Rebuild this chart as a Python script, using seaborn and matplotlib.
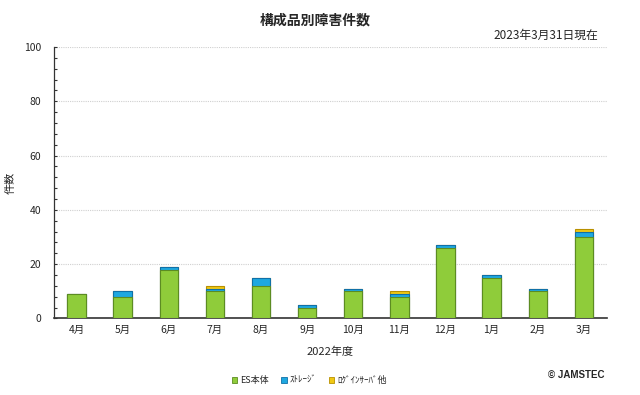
import numpy as np
import pandas as pd
import seaborn as sns
import matplotlib.pyplot as plt
from matplotlib.patches import Patch
from matplotlib.ticker import MultipleLocator

months = ['4月', '5月', '6月', '7月', '8月', '9月', '10月', '11月', '12月', '1月', '2月', '3月']
es_main = [9, 8, 18, 10, 12, 4, 10, 8, 26, 15, 10, 30]
storage = [0, 2, 1, 1, 3, 1, 1, 1, 1, 1, 1, 2]
login_etc = [0, 0, 0, 1, 0, 0, 0, 1, 0, 0, 0, 1]

series_names = ['ES本体', 'ｽﾄﾚｰｼﾞ', 'ﾛｸﾞｲﾝｻｰﾊﾞ他']
colors = ['#8fcc3a', '#1ea8e0', '#f0c814']
edges = ['#5c8c22', '#1070a8', '#b89000']

sns.set_style('white')
plt.rcParams['font.family'] = ['Noto Sans CJK JP', 'DejaVu Sans']

df = pd.DataFrame({'month': months, 'es': es_main, 'st': storage, 'lg': login_etc})
df['c1'] = df['es']
df['c2'] = df['es'] + df['st']
df['c3'] = df['c2'] + df['lg']

fig = plt.figure(figsize=(6.4, 3.95), dpi=100)
ax = fig.add_axes([0.0836, 0.194, 0.8647, 0.687])

# stacked by overlaying cumulative totals, top segment first
for col, c, e in zip(['c3', 'c2', 'c1'], colors[::-1], edges[::-1]):
    sns.barplot(data=df, x='month', y=col, color=c, width=0.4, ax=ax,
                edgecolor=e, linewidth=0.8, saturation=1, zorder=3)

ax.set_ylim(0, 100)
ax.set_xlim(-0.5, 11.5)
ax.yaxis.set_major_locator(MultipleLocator(20))
ax.yaxis.set_minor_locator(MultipleLocator(4))
ax.tick_params(axis='y', which='minor', direction='in', length=2, width=0.8, color='#333333', left=True)
ax.tick_params(axis='y', which='major', direction='in', length=2, width=0.8, color='#333333', left=True, labelsize=7.5, pad=9)
ax.tick_params(axis='x', length=0, labelsize=7.5, pad=5)
ax.grid(axis='y', color='#d0d0d0', linestyle=(0, (1, 1)), linewidth=0.8, zorder=0)
sns.despine(ax=ax, top=True, right=True)
ax.spines['left'].set_color('#333333')
ax.spines['bottom'].set_color('#333333')
ax.spines['left'].set_linewidth(0.9)
ax.spines['bottom'].set_linewidth(1.2)

ax.set_xlabel('2022年度', fontsize=8, labelpad=8)
ax.set_ylabel('件数', fontsize=8)
ax.yaxis.set_label_coords(-0.068, 0.5)

fig.text(0.492, 0.948, '構成品別障害件数', ha='center', va='center', fontsize=10, fontweight='bold')
fig.text(0.935, 0.911, '2023年3月31日現在', ha='right', va='center', fontsize=8.5)
fig.text(0.945, 0.05, '© JAMSTEC', ha='right', va='center', fontsize=7, fontweight='bold',
         family=['Liberation Sans', 'DejaVu Sans'])

handles = [Patch(facecolor=c, edgecolor=e, linewidth=0.6) for c, e in zip(colors, edges)]
fig.legend(handles, series_names, loc='center', bbox_to_anchor=(0.483, 0.037), ncol=3,
           frameon=False, fontsize=6.5, handlelength=0.6, handleheight=0.6,
           handletextpad=0.3, columnspacing=1.4)

fig.savefig('out.png', dpi=100)
